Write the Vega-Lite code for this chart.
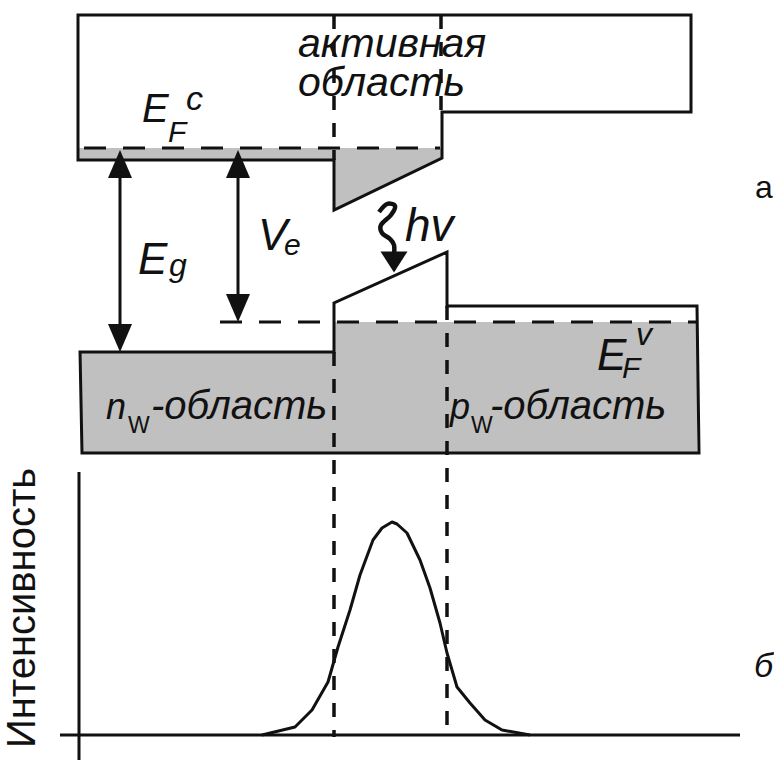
{
  "$schema": "https://vega.github.io/schema/vega-lite/v6.json",
  "width": 774,
  "height": 763,
  "autosize": {"type": "none"},
  "padding": 0,
  "background": "white",
  "config": {"view": {"stroke": null}},
  "datasets": {
    "fills": [
      {"g": "top", "x": 79, "y": 148, "y2": 159},
      {"g": "top", "x": 334, "y": 148, "y2": 159},
      {"g": "top", "x": 334.01, "y": 148, "y2": 209},
      {"g": "top", "x": 441, "y": 148, "y2": 158},
      {"g": "val", "x": 81, "y": 353, "y2": 452},
      {"g": "val", "x": 334, "y": 353, "y2": 452},
      {"g": "val", "x": 334.01, "y": 322, "y2": 452},
      {"g": "val", "x": 697, "y": 322, "y2": 452}
    ],
    "solid": [
      {"g": "cb", "o": 1, "x": 78, "y": 15},
      {"g": "cb", "o": 2, "x": 691, "y": 15},
      {"g": "cb", "o": 3, "x": 691, "y": 112},
      {"g": "cb", "o": 4, "x": 442, "y": 112},
      {"g": "cb", "o": 5, "x": 442, "y": 158},
      {"g": "cb", "o": 6, "x": 334, "y": 210},
      {"g": "cb", "o": 7, "x": 334, "y": 160},
      {"g": "cb", "o": 8, "x": 78, "y": 160},
      {"g": "cb", "o": 9, "x": 78, "y": 13.5},
      {"g": "vb", "o": 1, "x": 80, "y": 352},
      {"g": "vb", "o": 2, "x": 334, "y": 352},
      {"g": "vb", "o": 3, "x": 334, "y": 303},
      {"g": "vb", "o": 4, "x": 447, "y": 252},
      {"g": "vb", "o": 5, "x": 447, "y": 306},
      {"g": "vb", "o": 6, "x": 697, "y": 306},
      {"g": "vb", "o": 7, "x": 699, "y": 453},
      {"g": "vb", "o": 8, "x": 82, "y": 453},
      {"g": "vb", "o": 9, "x": 80, "y": 350.5},
      {"g": "ya", "o": 1, "x": 79, "y": 472},
      {"g": "ya", "o": 2, "x": 79, "y": 760},
      {"g": "xa", "o": 1, "x": 60, "y": 735},
      {"g": "xa", "o": 2, "x": 740, "y": 735},
      {"g": "eg", "o": 1, "x": 120, "y": 160},
      {"g": "eg", "o": 2, "x": 120, "y": 342},
      {"g": "ve", "o": 1, "x": 238, "y": 160},
      {"g": "ve", "o": 2, "x": 238, "y": 312}
    ],
    "curve": [
      {"o": 1, "x": 262, "y": 735},
      {"o": 2, "x": 295, "y": 727},
      {"o": 3, "x": 312, "y": 710},
      {"o": 4, "x": 328, "y": 682},
      {"o": 5, "x": 338, "y": 647},
      {"o": 6, "x": 350, "y": 610},
      {"o": 7, "x": 360, "y": 575},
      {"o": 8, "x": 373, "y": 540},
      {"o": 9, "x": 382, "y": 528},
      {"o": 10, "x": 392, "y": 522},
      {"o": 11, "x": 397, "y": 524},
      {"o": 12, "x": 407, "y": 533},
      {"o": 13, "x": 420, "y": 560},
      {"o": 14, "x": 430, "y": 588},
      {"o": 15, "x": 440, "y": 623},
      {"o": 16, "x": 447, "y": 653},
      {"o": 17, "x": 457, "y": 687},
      {"o": 18, "x": 470, "y": 703},
      {"o": 19, "x": 485, "y": 720},
      {"o": 20, "x": 502, "y": 730},
      {"o": 21, "x": 530, "y": 735}
    ],
    "squiggle": [
      {"o": 1, "x": 379, "y": 212},
      {"o": 2, "x": 387, "y": 204},
      {"o": 3, "x": 395, "y": 206},
      {"o": 4, "x": 391, "y": 215},
      {"o": 5, "x": 381, "y": 225},
      {"o": 6, "x": 382, "y": 233},
      {"o": 7, "x": 390, "y": 239},
      {"o": 8, "x": 394, "y": 245},
      {"o": 9, "x": 394, "y": 256}
    ],
    "dashH": [
      {"g": "fc", "o": 1, "x": 84, "y": 148},
      {"g": "fc", "o": 2, "x": 440, "y": 148},
      {"g": "fv", "o": 1, "x": 220, "y": 322},
      {"g": "fv", "o": 2, "x": 697, "y": 322}
    ],
    "dashV": [
      {"g": "l1", "o": 1, "x": 334, "y": 15},
      {"g": "l1", "o": 2, "x": 334, "y": 160},
      {"g": "l2", "o": 1, "x": 334, "y": 352},
      {"g": "l2", "o": 2, "x": 334, "y": 737},
      {"g": "r1", "o": 1, "x": 441, "y": 15},
      {"g": "r1", "o": 2, "x": 441, "y": 112},
      {"g": "r2", "o": 1, "x": 447, "y": 306},
      {"g": "r2", "o": 2, "x": 447, "y": 737}
    ],
    "heads": [
      {"x": 120, "y": 164, "shape": "M0,-1L0.857,1L-0.857,1Z", "s": 784},
      {"x": 120, "y": 338, "shape": "M0,1L0.857,-1L-0.857,-1Z", "s": 784},
      {"x": 238, "y": 164, "shape": "M0,-1L0.857,1L-0.857,1Z", "s": 784},
      {"x": 238, "y": 308, "shape": "M0,1L0.857,-1L-0.857,-1Z", "s": 784},
      {"x": 394, "y": 262, "shape": "M-1,-0.78L1,-0.78L0,0.78Z", "s": 729}
    ],
    "textItalic": [
      {"t": "активная", "x": 298, "y": 57, "fs": 41},
      {"t": "область", "x": 298, "y": 96, "fs": 41},
      {"t": "E", "x": 142, "y": 122, "fs": 40},
      {"t": "F", "x": 168, "y": 142, "fs": 30},
      {"t": "c", "x": 186, "y": 110, "fs": 34},
      {"t": "E", "x": 138, "y": 274, "fs": 44},
      {"t": "g", "x": 169, "y": 276, "fs": 32},
      {"t": "V", "x": 258, "y": 250, "fs": 44},
      {"t": "e", "x": 284, "y": 255, "fs": 30},
      {"t": "hv", "x": 405, "y": 241, "fs": 46},
      {"t": "E", "x": 597, "y": 370, "fs": 44},
      {"t": "F", "x": 622, "y": 378, "fs": 30},
      {"t": "v", "x": 636, "y": 345, "fs": 32},
      {"t": "n", "x": 106, "y": 419, "fs": 36},
      {"t": "-область", "x": 151, "y": 419, "fs": 40},
      {"t": "p", "x": 450, "y": 419, "fs": 36},
      {"t": "-область", "x": 490, "y": 419, "fs": 40},
      {"t": "б", "x": 754, "y": 677, "fs": 34}
    ],
    "textUpright": [
      {"t": "W", "x": 128, "y": 433, "fs": 23},
      {"t": "W", "x": 471, "y": 433, "fs": 23},
      {"t": "а", "x": 755, "y": 198, "fs": 32}
    ],
    "textRot": [
      {"t": "Интенсивность", "x": 35, "y": 608, "fs": 40}
    ]
  },
  "encoding": {
    "x": {"field": "x", "type": "quantitative", "scale": {"domain": [0, 774], "nice": false, "zero": false}, "axis": null},
    "y": {"field": "y", "type": "quantitative", "scale": {"domain": [0, 763], "nice": false, "zero": false, "reverse": true}, "axis": null}
  },
  "layer": [
    {
      "data": {"name": "fills"},
      "mark": {"type": "area", "color": "#c0c0c0", "opacity": 1, "interpolate": "linear"},
      "encoding": {
        "y": {"field": "y", "type": "quantitative", "stack": null, "scale": {"domain": [0, 763], "nice": false, "zero": false, "reverse": true}, "axis": null},
        "y2": {"field": "y2"},
        "detail": {"field": "g", "type": "nominal"}
      }
    },
    {
      "data": {"name": "dashH"},
      "mark": {"type": "line", "color": "#111111", "strokeWidth": 3, "strokeDash": [22, 17], "strokeCap": "butt"},
      "encoding": {"detail": {"field": "g", "type": "nominal"}, "order": {"field": "o", "type": "quantitative"}}
    },
    {
      "data": {"name": "dashV"},
      "mark": {"type": "line", "color": "#111111", "strokeWidth": 3.5, "strokeDash": [14, 13], "strokeCap": "butt"},
      "encoding": {"detail": {"field": "g", "type": "nominal"}, "order": {"field": "o", "type": "quantitative"}}
    },
    {
      "data": {"name": "solid"},
      "mark": {"type": "line", "color": "#111111", "strokeWidth": 3, "strokeJoin": "miter", "strokeCap": "butt"},
      "encoding": {"detail": {"field": "g", "type": "nominal"}, "order": {"field": "o", "type": "quantitative"}}
    },
    {
      "data": {"name": "curve"},
      "mark": {"type": "line", "color": "#111111", "strokeWidth": 3, "strokeJoin": "round"},
      "encoding": {"order": {"field": "o", "type": "quantitative"}}
    },
    {
      "data": {"name": "squiggle"},
      "mark": {"type": "line", "color": "#111111", "strokeWidth": 4.5, "interpolate": "cardinal", "strokeCap": "butt"},
      "encoding": {"order": {"field": "o", "type": "quantitative"}}
    },
    {
      "data": {"name": "heads"},
      "mark": {"type": "point", "filled": true, "color": "#111111", "opacity": 1, "strokeWidth": 0},
      "encoding": {
        "shape": {"field": "shape", "type": "nominal", "scale": null},
        "size": {"field": "s", "type": "quantitative", "scale": null}
      }
    },
    {
      "data": {"name": "textItalic"},
      "mark": {"type": "text", "font": "Liberation Sans", "fontStyle": "italic", "align": "left", "baseline": "alphabetic", "color": "#111111"},
      "encoding": {
        "text": {"field": "t", "type": "nominal"},
        "size": {"field": "fs", "type": "quantitative", "scale": null}
      }
    },
    {
      "data": {"name": "textUpright"},
      "mark": {"type": "text", "font": "Liberation Sans Narrow, Liberation Sans", "align": "left", "baseline": "alphabetic", "color": "#111111"},
      "encoding": {
        "text": {"field": "t", "type": "nominal"},
        "size": {"field": "fs", "type": "quantitative", "scale": null}
      }
    },
    {
      "data": {"name": "textRot"},
      "mark": {"type": "text", "font": "Liberation Sans", "align": "center", "baseline": "alphabetic", "angle": 270, "color": "#111111"},
      "encoding": {
        "text": {"field": "t", "type": "nominal"},
        "size": {"field": "fs", "type": "quantitative", "scale": null}
      }
    }
  ]
}
